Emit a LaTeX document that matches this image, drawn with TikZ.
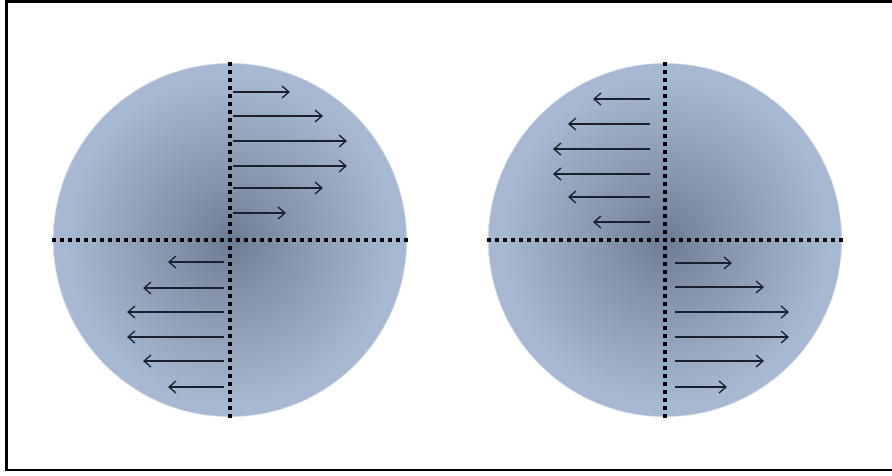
\documentclass[tikz,border=0pt]{standalone}
\usepackage{tikz}
\usetikzlibrary{arrows.meta}
\definecolor{discdark}{RGB}{110,124,146}
\definecolor{disclight}{RGB}{166,184,210}
\definecolor{arrowink}{RGB}{26,32,46}
\pgfdeclareradialshading{discshade}{\pgfpoint{0bp}{0bp}}{%
  color(0bp)=(discdark); color(7bp)=(discdark!65!disclight);
  color(23bp)=(disclight); color(50bp)=(disclight)}

\begin{document}
\begin{tikzpicture}[x=1pt, y=-1pt,
  disc/.style={circle, minimum size=354pt, inner sep=0pt, shading=discshade,
    draw=white, draw opacity=0.5, line width=1.4pt},
  axis/.style={line width=3.8pt, dash pattern=on 3.8pt off 4.2pt, black},
  flow/.style={-{Straight Barb[length=7pt, width=12pt]}, line width=1.3pt, arrowink}]
  \useasboundingbox (0,0) rectangle (892,475);
  \draw[line width=2.6pt] (6.5,1.5) rectangle (900,470);

  \node[disc] (lefthub) at (230,240) {};
  \node[disc] (righthub) at (665,240) {};

  \draw[axis] (lefthub.west) -- (lefthub.east);
  \draw[axis] (lefthub.north) -- (lefthub.south);
  \draw[axis] (righthub.west) -- (righthub.east);
  \draw[axis] (righthub.north) -- (righthub.south);

  % left disc
  \foreach \y/\x in {92/290, 116/323, 141/347, 166/347, 188/323, 213/286}
    \draw[flow] (233,\y) -- (\x,\y);
  \foreach \y/\x in {262/168, 288/143, 312/127, 337/127, 361/143, 387/168}
    \draw[flow] (224,\y) -- (\x,\y);

  % right disc
  \foreach \y/\x in {99/593, 124/568, 149/553, 174/553, 197/568, 222/593}
    \draw[flow] (650,\y) -- (\x,\y);
  \foreach \y/\x in {263/732, 287/764, 312/789, 337/789, 361/764, 387/727}
    \draw[flow] (675,\y) -- (\x,\y);
\end{tikzpicture}
\end{document}
